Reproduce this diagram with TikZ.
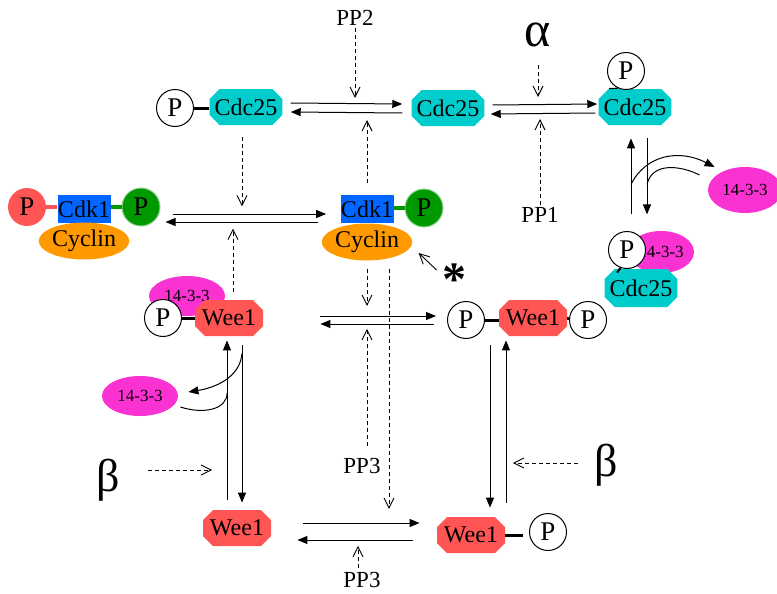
\documentclass[tikz,border=0pt]{standalone}
\usepackage{fontspec}
\setmainfont{Liberation Serif}
\usetikzlibrary{shapes.geometric,shapes.misc,arrows.meta,calc}
\definecolor{cdccyan}{RGB}{0,204,204}
\definecolor{weered}{RGB}{255,85,85}
\definecolor{cdkblue}{RGB}{0,102,255}
\definecolor{cycorange}{RGB}{255,153,0}
\definecolor{pgreen}{RGB}{0,153,0}
\definecolor{fpink}{RGB}{250,50,210}
\begin{document}
\begin{tikzpicture}[x=0.5pt,y=-0.5pt,
    lbl/.style={font=\fontsize{12}{14}\selectfont},
    plbl/.style={font=\fontsize{13.5}{15}\selectfont},
    ppl/.style={font=\fontsize{11.5}{13}\selectfont,inner sep=1pt},
    greek/.style={font=\fontsize{23}{26}\selectfont,inner sep=1pt},
    phos/.style={circle,draw,fill=white,line width=0.5pt,inner sep=0pt,minimum size=18.5pt,plbl},
    rphos/.style={circle,fill=weered,inner sep=0pt,minimum size=19pt,plbl},
    gphos/.style={circle,fill=pgreen,draw=pgreen!45!white,line width=0.5pt,inner sep=0pt,minimum size=19pt,plbl},
    octo/.style={chamfered rectangle,chamfered rectangle xsep=2.5pt,chamfered rectangle ysep=2.5pt,
      inner sep=0pt,minimum width=34pt,minimum height=18pt,lbl},
    cdkbox/.style={rectangle,fill=cdkblue,inner sep=0pt,minimum width=26.5pt,minimum height=14pt,lbl},
    cycl/.style={ellipse,fill=cycorange,inner sep=0pt,minimum width=32.5pt,minimum height=18.5pt,lbl},
    f14/.style={ellipse,fill=fpink,inner sep=0pt,minimum width=38pt,minimum height=20pt,
      font=\fontsize{8.5}{10}\selectfont},
    bond/.style={line width=1.5pt},
    fwd/.style={-{Triangle[length=5pt,width=4pt]},line width=0.5pt},
    catal/.style={dash pattern=on 2pt off 1.5pt,-{Straight Barb[length=5pt,width=5pt]},line width=0.45pt}]
  \useasboundingbox (0,0) rectangle (777,594);

  % top row
  \node[phos] (pA) at (175,108) {P};
  \node[octo,fill=cdccyan] (cdcA) at (246,107) {Cdc25};
  \node[octo,fill=cdccyan] (cdcB) at (448,108) {Cdc25};
  \node[octo,fill=cdccyan] (cdcC) at (635,107) {Cdc25};
  \node[phos] (pC) at (626,71) {P};
  \node[ppl] (pp2) at (355,18) {PP2};
  \node[greek,font=\fontsize{25}{28}\selectfont] (alpha) at (538,35) {α};
  \node[ppl] (pp1) at (540,215) {PP1};
  \draw[bond] (pA.east) -- (pA.east -| cdcA.west);
  \draw[line width=0.6pt] (pC.245) -- ($(cdcC.north)+(-26,0)$);

  % Cdk1/Cyclin
  \node[rphos] (pL) at (27,207) {P};
  \node[cdkbox] (cdkL) at (84,209) {Cdk1};
  \node[gphos] (pLg) at (141,207) {P};
  \node[cycl] (cycL) at (84,241) {Cyclin};
  \draw[weered,line width=2pt] (pL.east) -- (pL.east -| cdkL.west);
  \draw[pgreen,line width=2pt] (cdkL.east |- pLg.west) -- (pLg.west);
  \node[cdkbox] (cdkM) at (367,209) {Cdk1};
  \node[gphos] (pMg) at (424,208) {P};
  \node[cycl] (cycM) at (367,242) {Cyclin};
  \draw[pgreen,line width=2pt] (cdkM.east |- pMg.west) -- (pMg.west);
  \node[font=\fontsize{24}{26}\selectfont\bfseries,inner sep=1pt] (star) at (454,280) {*};

  % right column
  \node[f14,minimum width=37pt,minimum height=23pt] (fR) at (745,190) {14-3-3};
  \node[f14,minimum width=33pt,minimum height=21pt] (fD) at (661,252) {14-3-3};
  \node[phos] (pD) at (627,250) {P};
  \node[octo,fill=cdccyan,minimum width=33pt,minimum height=19pt] (cdcD) at (641,288) {Cdc25};
  \draw[line width=1pt] (pD.250) -- ($(cdcD.north)+(-24,4)$);

  % Wee1 row
  \node[f14] (fW) at (187,296) {14-3-3};
  \node[phos] (pW) at (163,318) {P};
  \node[octo,fill=weered] (weeA) at (229,318) {Wee1};
  \draw[bond] (pW.east) -- (pW.east -| weeA.west);
  \node[phos] (pWa) at (466,320) {P};
  \node[octo,fill=weered] (weeB) at (533,318) {Wee1};
  \node[phos] (pWb) at (588,320) {P};
  \draw[bond] (pWa.east) -- (pWa.east -| weeB.west);
  \draw[bond] (weeB.east) -- (weeB.east -| pWb.west);
  \node[f14] (fL) at (140,396) {14-3-3};
  \node[greek] (betaL) at (108,480) {β};
  \node[greek] (betaR) at (606,465) {β};
  \node[ppl] (pp3a) at (362,466) {PP3};

  % bottom row
  \node[octo,fill=weered] (weeC) at (237,528) {Wee1};
  \node[octo,fill=weered] (weeD) at (471,535) {Wee1};
  \node[phos] (pWd) at (548,532) {P};
  \draw[bond,shorten >=3pt] (weeD.east) -- (weeD.east -| pWd.west);
  \node[ppl] (pp3b) at (362,580) {PP3};

  % reactions
  \draw[fwd] ($(cdcA.east)+(8,-4)$) -- ($(cdcB.west)+(-9,-4)$);
  \draw[fwd] ($(cdcB.west)+(-9,5)$) -- ($(cdcA.east)+(8,5)$);
  \draw[fwd] ($(cdcB.east)+(8,-3)$) -- ($(cdcC.west)+(-1,-3)$);
  \draw[fwd] ($(cdcC.west)+(-3,6)$) -- ($(cdcB.east)+(6,6)$);
  \draw[fwd] ($(cdcC.south)+(-4,89)$) -- ($(cdcC.south)+(-4,13)$);
  \draw[fwd] ($(cdcC.south)+(12,13)$) -- ($(cdcC.south)+(12,89)$);
  \draw[fwd] ($(cdcC.south)+(-4,59)$) .. controls +(15,-30) and +(-35,-18) .. ($(fR.west)+(7,-23)$);
  \draw[line width=0.5pt] ($(fR.west)+(-8,-15)$) .. controls +(-20,-10) and +(5,-22) .. ($(cdcC.south)+(12,59)$);
  \draw[fwd] ($(pLg.east)+(12,7)$) -- ($(cdkM.west)+(-14,5)$);
  \draw[fwd] ($(cdkM.west)+(-22,13)$) -- ($(pLg.east)+(5,15)$);
  \draw[fwd] ($(weeA.east)+(57,-2)$) -- ($(pWa.west)+(-11,-4)$);
  \draw[fwd] ($(pWa.west)+(-13,4)$) -- ($(weeA.east)+(57,6)$);
  \draw[fwd] ($(weeC.east)+(32,-5)$) -- ($(weeD.west)+(-17,-12)$);
  \draw[fwd] ($(weeD.west)+(-24,5)$) -- ($(weeC.east)+(26,12)$);
  \draw[fwd] ($(weeC.north)+(-10,-10)$) -- ($(weeA.south)+(-2,4)$);
  \draw[fwd] ($(weeA.south)+(13,9)$) -- ($(weeC.north)+(5,-7)$);
  \draw[fwd] ($(weeA.south)+(13,17)$) .. controls +(-2,25) and +(25,-4) .. ($(fL.east)+(10,-4)$);
  \draw[line width=0.5pt] ($(fL.east)+(2,11)$) .. controls +(25,8) and +(0,15) .. ($(weeA.south)+(-2,57)$);
  \draw[fwd] ($(weeB.south)+(-43,9)$) -- ($(weeD.north)+(19,-9)$);
  \draw[fwd] ($(weeD.north)+(35,-14)$) -- ($(weeB.south)+(-27,4)$);

  % catalysts
  \draw[catal] (pp2.south) -- ($(pp2.south |- cdcB.west)+(0,-10)$);
  \draw[catal] ($(cdkM.north)+(0,-12)$) -- ($(cdkM.north |- cdcB.west)+(0,12)$);
  \draw[catal] ($(alpha.south)+(0,16)$) -- ($(alpha.south |- cdcC.west)+(0,-10)$);
  \draw[catal] (pp1.north) -- ($(pp1.north |- cdcC.west)+(0,12)$);
  \draw[catal] ($(cdcA.south)+(-4,12)$) -- ($(cdcA.south)+(-4,81)$);
  \draw[catal] ($(weeA.north)+(4,-8)$) -- ($(weeA.north)+(4,-71)$);
  \draw[catal] ($(cycM.south)+(0,8)$) -- ($(cycM.south)+(0,45)$);
  \draw[catal] ($(cycM.south)+(22,8)$) -- ($(cycM.south)+(22,248)$);
  \draw[catal] ($(pp3a.north)+(5,-10)$) -- ($(pp3a.north)+(5,-127)$);
  \draw[catal] ($(pp3b.north)+(-4,-2)$) -- ($(pp3b.north)+(-4,-24)$);
  \draw[catal] ($(betaL.east)+(26,-10)$) -- ($(betaL.east)+(90,-10)$);
  \draw[catal] ($(betaR.west)+(-14,-2)$) -- ($(betaR.west)+(-79,-2)$);
  \draw[-{Straight Barb[length=5pt,width=5pt]},line width=0.45pt] ($(star.west)+(-3,-10)$) -- ($(cycM.east)+(6,11)$);
\end{tikzpicture}
\end{document}
